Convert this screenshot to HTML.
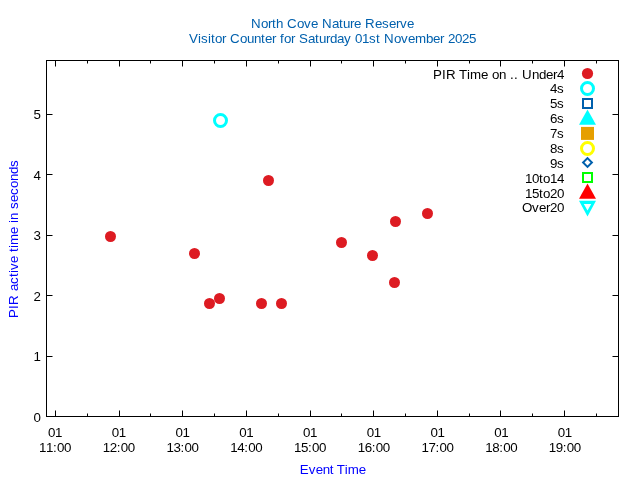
<!DOCTYPE html><html><head><meta charset="utf-8"><style>html,body{margin:0;padding:0;background:#fff;width:640px;height:480px;overflow:hidden}svg{display:block;will-change:transform}text{font-family:"Liberation Sans",sans-serif;font-size:13.33px}</style></head><body>
<svg width="640" height="480" viewBox="0 0 640 480">
<rect width="640" height="480" fill="#fff"/>
<path d="M55.5 416V410.5M55.5 61V66.5M119.5 416V410.5M119.5 61V66.5M182.5 416V410.5M182.5 61V66.5M246.5 416V410.5M246.5 61V66.5M310.5 416V410.5M310.5 61V66.5M373.5 416V410.5M373.5 61V66.5M437.5 416V410.5M437.5 61V66.5M500.5 416V410.5M500.5 61V66.5M564.5 416V410.5M564.5 61V66.5M87.5 416V413.5M87.5 61V63.5M150.5 416V413.5M150.5 61V63.5M214.5 416V413.5M214.5 61V63.5M278.5 416V413.5M278.5 61V63.5M341.5 416V413.5M341.5 61V63.5M405.5 416V413.5M405.5 61V63.5M469.5 416V413.5M469.5 61V63.5M532.5 416V413.5M532.5 61V63.5M596.5 416V413.5M596.5 61V63.5M47 416.5H52.5M618 416.5H612.5M47 356.5H52.5M618 356.5H612.5M47 295.5H52.5M618 295.5H612.5M47 235.5H52.5M618 235.5H612.5M47 174.5H52.5M618 174.5H612.5M47 114.5H52.5M618 114.5H612.5" stroke="#000" stroke-width="1" fill="none"/>
<rect x="46.5" y="60.5" width="572" height="356" fill="none" stroke="#000" stroke-width="1"/>
<text x="33.5" y="422">0</text>
<text x="33.5" y="361">1</text>
<text x="33.5" y="301">2</text>
<text x="33.5" y="240">3</text>
<text x="33.5" y="180">4</text>
<text x="33.5" y="119">5</text>
<text x="48.1 55.1" y="437">01</text>
<text x="39.1 46.1 53.1 57.1 64.1" y="452">11:00</text>
<text x="111.82 118.82" y="437">01</text>
<text x="102.82 109.82 116.82 120.82 127.82" y="452">12:00</text>
<text x="175.54 182.54" y="437">01</text>
<text x="166.54 173.54 180.54 184.54 191.54" y="452">13:00</text>
<text x="239.26 246.26" y="437">01</text>
<text x="230.26 237.26 244.26 248.26 255.26" y="452">14:00</text>
<text x="302.98 309.98" y="437">01</text>
<text x="293.98 300.98 307.98 311.98 318.98" y="452">15:00</text>
<text x="366.7 373.7" y="437">01</text>
<text x="357.7 364.7 371.7 375.7 382.7" y="452">16:00</text>
<text x="430.42 437.42" y="437">01</text>
<text x="421.42 428.42 435.42 439.42 446.42" y="452">17:00</text>
<text x="494.14 501.14" y="437">01</text>
<text x="485.14 492.14 499.14 503.14 510.14" y="452">18:00</text>
<text x="557.86 564.86" y="437">01</text>
<text x="548.86 555.86 562.86 566.86 573.86" y="452">19:00</text>
<text x="251 261 268 272 276 283 287 297 304 311 318 322 332 339 343 350 354 361 365 375 382 389 396 400 407" y="28" fill="#0060ad">North Cove Nature Reserve</text>
<text x="189 198 201 208 211 215 222 226 230 240 247 254 261 265 272 276 280 284 291 295 299 308 315 319 326 330 337 344 351 355 362 369 376 380 384 394 401 408 415 426 433 440 444 448 455 462 469" y="43" fill="#0060ad">Visitor Counter for Saturday 01st November 2025</text>
<text x="299.8 308.8 315.8 322.8 329.8 333.8 336.8 344.8 347.8 358.8" y="474" fill="#00f">Event Time</text>
<g transform="translate(18.1 318) rotate(-90)"><text x="0 9 13 23 27 34 41 45 48 55 62 66 70 73 84 91 95 98 105 109 116 123 130 137 144 151" y="0" fill="#00f">PIR active time in seconds</text></g>
<circle cx="110.5" cy="236.5" r="5.5" fill="#dd1b22"/>
<circle cx="194.5" cy="253.5" r="5.5" fill="#dd1b22"/>
<circle cx="209.5" cy="303.5" r="5.5" fill="#dd1b22"/>
<circle cx="219.5" cy="298.5" r="5.5" fill="#dd1b22"/>
<circle cx="261.5" cy="303.5" r="5.5" fill="#dd1b22"/>
<circle cx="281.5" cy="303.5" r="5.5" fill="#dd1b22"/>
<circle cx="268.5" cy="180.5" r="5.5" fill="#dd1b22"/>
<circle cx="341.5" cy="242.5" r="5.5" fill="#dd1b22"/>
<circle cx="372.5" cy="255.5" r="5.5" fill="#dd1b22"/>
<circle cx="395.5" cy="221.5" r="5.5" fill="#dd1b22"/>
<circle cx="394.5" cy="282.5" r="5.5" fill="#dd1b22"/>
<circle cx="427.5" cy="213.5" r="5.5" fill="#dd1b22"/>
<circle cx="220.5" cy="120.5" r="6" fill="none" stroke="#0ff" stroke-width="3"/>
<text x="433 442 446 456 459 467 470 481 488 492 499 506 510 514 518 522 532 539 546 553 557" y="79">PIR Time on .. Under4</text>
<text x="550 557" y="93">4s</text>
<text x="550 557" y="108">5s</text>
<text x="550 557" y="123">6s</text>
<text x="550 557" y="138">7s</text>
<text x="550 557" y="153">8s</text>
<text x="550 557" y="168">9s</text>
<text x="525 532 539 543 550 557" y="183">10to14</text>
<text x="525 532 539 543 550 557" y="198">15to20</text>
<text x="522 532 539 546 550 557" y="212">Over20</text>
<circle cx="587.5" cy="73.5" r="5.6" fill="#dd1b22"/>
<circle cx="587.5" cy="88.50" r="6" fill="none" stroke="#0ff" stroke-width="3"/>
<rect x="583.0" y="99.00" width="9" height="9" fill="none" stroke="#0060ad" stroke-width="2"/>
<path d="M587.5 109.50L596.0 124.75H579.0Z" fill="#0ff"/>
<rect x="581.0" y="126.90" width="13" height="13" fill="#e69f00"/>
<circle cx="587.5" cy="148.50" r="6" fill="none" stroke="#ff0" stroke-width="3"/>
<path d="M587.5 158.10L591.9 162.50L587.5 166.90L583.1 162.50Z" fill="none" stroke="#0060ad" stroke-width="2"/>
<rect x="583.0" y="173.00" width="9" height="9" fill="none" stroke="#0f0" stroke-width="2"/>
<path d="M587.5 183.50L596.0 198.75H579.0Z" fill="#f00"/>
<path d="M579 200.75H596L587.5 216.5ZM583.8 204H591.2L587.5 210.5Z" fill="#0ff" fill-rule="evenodd"/>
</svg></body></html>
